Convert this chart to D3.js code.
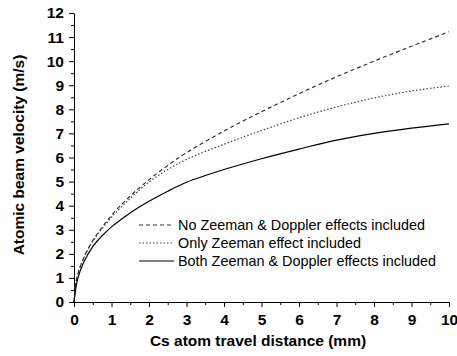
<!DOCTYPE html>
<html>
<head>
<meta charset="utf-8">
<script src="https://cdn.jsdelivr.net/npm/d3@7"></script>
<style>
  body { margin: 0; background: #fff; }
  svg { display: block; font-family: "Liberation Sans", Arial, sans-serif; }
</style>
</head>
<body>
<svg id="chart"></svg>
<script>
let dist = [0, 0.05, 0.1, 0.25, 0.5, 0.75, 1, 1.5, 2, 2.5, 3, 4, 5, 6, 7, 8, 9, 10];

// velocities (m/s)
let noEffects   = [0, 0.8, 1.15, 1.8, 2.55, 3.1, 3.6, 4.4, 5.08, 5.67, 6.2, 7.1, 7.9, 8.65, 9.35, 10.0, 10.62, 11.22];
let zeemanOnly  = [0, 0.8, 1.15, 1.8, 2.52, 3.05, 3.52, 4.3, 4.98, 5.5, 5.92, 6.55, 7.12, 7.65, 8.1, 8.47, 8.76, 8.97];
let bothEffects = [0, 0.58, 0.97, 1.62, 2.3, 2.75, 3.12, 3.7, 4.18, 4.6, 4.97, 5.5, 5.95, 6.35, 6.72, 7.0, 7.22, 7.4];

let legendNames = ["No Zeeman & Doppler effects included", "Only Zeeman effect included", "Both Zeeman & Doppler effects included"];
let xTicks = d3.range(0, 11, 1);
let yTicks = d3.range(0, 13, 1);

var width = 457, height = 356;
var plotL = 74, plotR = 449, plotT = 13, plotB = 302;

var svg = d3.select("#chart").attr("width", width).attr("height", height);

var x = d3.scaleLinear().domain([0, 10]).range([plotL, plotR]);
var y = d3.scaleLinear().domain([0, 12]).range([plotB, plotT]);

// minor ticks
svg.append("g")
    .attr("transform", "translate(0," + plotB + ")")
    .call(d3.axisBottom(x).tickValues(d3.range(0.5, 10, 1)).tickSize(3).tickFormat(""))
    .call(g => g.select(".domain").remove());
svg.append("g")
    .attr("transform", "translate(" + plotL + ",0)")
    .call(d3.axisLeft(y).tickValues(d3.range(0.5, 12, 1)).tickSize(3).tickFormat(""))
    .call(g => g.select(".domain").remove());

var xAxis = svg.append("g")
    .attr("transform", "translate(0," + plotB + ")")
    .call(d3.axisBottom(x).tickValues(xTicks).tickSize(5).tickSizeOuter(0).tickPadding(7).tickFormat(d3.format("d")));
var yAxis = svg.append("g")
    .attr("transform", "translate(" + plotL + ",0)")
    .call(d3.axisLeft(y).tickValues(yTicks).tickSize(5).tickSizeOuter(0).tickPadding(5).tickFormat(d3.format("d")));

svg.selectAll(".tick text")
    .attr("font-family", "Liberation Sans, Arial, sans-serif")
    .attr("font-size", 15.5)
    .attr("font-weight", "bold")
    .attr("fill", "#000");
svg.selectAll(".domain, .tick line").attr("stroke", "#000").attr("stroke-width", 1);

// axis titles
svg.append("text")
    .attr("x", 258)
    .attr("y", 346)
    .attr("text-anchor", "middle")
    .attr("font-size", 15.5)
    .attr("font-weight", "bold")
    .text("Cs atom travel distance (mm)");

svg.append("text")
    .attr("transform", "translate(24,155) rotate(-90)")
    .attr("text-anchor", "middle")
    .attr("font-size", 15.5)
    .attr("font-weight", "bold")
    .text("Atomic beam velocity (m/s)");

var series = [noEffects, zeemanOnly, bothEffects];
var dashes = ["4,3", "1.5,2", null];
var colors = ["#333", "#444", "#000"];

var line = d3.line()
    .x(function(d, i) { return x(dist[i]); })
    .y(function(d) { return y(d); })
    .curve(d3.curveCatmullRom.alpha(0.5));

svg.selectAll("path.curve")
    .data(series)
    .enter()
    .append("path")
    .attr("class", "curve")
    .attr("d", line)
    .attr("fill", "none")
    .attr("stroke", function(d, i) { return colors[i]; })
    .attr("stroke-width", 1.2)
    .attr("stroke-dasharray", function(d, i) { return dashes[i]; });

// legend
var legend = svg.selectAll("g.leg")
    .data(legendNames)
    .enter()
    .append("g")
    .attr("class", "leg")
    .attr("transform", function(d, i) { return "translate(139," + (225 + i * 18) + ")"; });

legend.append("line")
    .attr("x1", 0).attr("x2", 35)
    .attr("y1", 0).attr("y2", 0)
    .attr("stroke", function(d, i) { return colors[i]; })
    .attr("stroke-width", 1.2)
    .attr("stroke-dasharray", function(d, i) { return dashes[i]; });

legend.append("text")
    .attr("x", 39)
    .attr("y", 5)
    .attr("font-size", 14.4)
    .text(function(d) { return d; });
</script>
</body>
</html>
